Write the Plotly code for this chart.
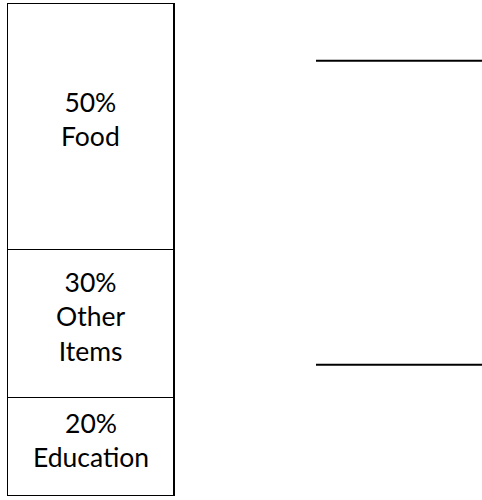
import plotly.graph_objects as go

# Data (bottom to top of the stack)
categories = ["Education", "Other Items", "Food"]
shares = [20, 30, 50]

# Connector lines on the right (y levels in data units)
connector_levels = [88.3, 26.6]
connector_x = [1.353, 2.4]

fig = go.Figure()

base = 0
for cat, val in zip(categories, shares):
    label = f"{val}%<br>" + cat.replace(" ", "<br>")
    fig.add_trace(go.Bar(
        x=[0], y=[val], width=[1],
        name=cat,
        marker=dict(color="#ffffff", line=dict(color="#000000", width=1.5)),
        hoverinfo="skip",
        showlegend=False,
    ))
    fig.add_annotation(
        x=0, y=base + val / 2, xref="x", yref="y",
        text=label, showarrow=False,
        font=dict(family="Lato", size=26.5, color="#000000"),
        align="center", yshift=7,
    )
    base += val

for lvl in connector_levels:
    fig.add_trace(go.Scatter(
        x=connector_x, y=[lvl, lvl],
        mode="lines",
        line=dict(color="#000000", width=2),
        hoverinfo="skip",
        showlegend=False,
        cliponaxis=True,
    ))

fig.update_layout(
    width=482, height=500,
    barmode="stack",
    margin=dict(l=0, r=0, t=3, b=4),
    paper_bgcolor="#ffffff",
    plot_bgcolor="#ffffff",
    xaxis=dict(range=[-0.545, 2.35], visible=False, fixedrange=True),
    yaxis=dict(range=[0, 100], visible=False, fixedrange=True),
)

fig.write_html(
    "out.html",
    config={"displayModeBar": False, "staticPlot": True},
    post_script="document.body.style.margin='0px';document.body.style.overflow='hidden';",
)
